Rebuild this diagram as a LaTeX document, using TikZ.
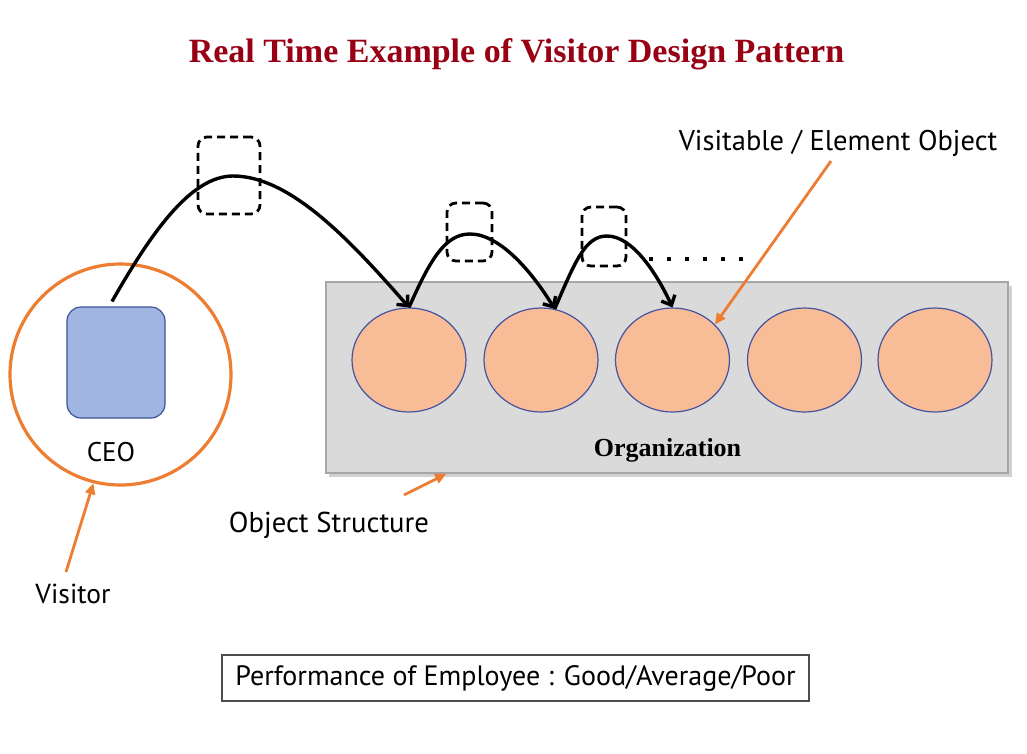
\documentclass[tikz,border=0pt]{standalone}
\usepackage{fontspec}
\setmainfont{PT Sans}
\newfontfamily\headfont{Liberation Serif}
\usetikzlibrary{arrows.meta,shapes.geometric,calc}
\definecolor{titlered}{RGB}{152,0,20}
\definecolor{accent}{RGB}{237,125,49}
\definecolor{peach}{RGB}{248,189,150}
\definecolor{rim}{RGB}{68,84,160}
\definecolor{ceoblue}{RGB}{160,181,226}
\definecolor{ceorim}{RGB}{60,85,150}
\definecolor{panel}{RGB}{218,218,218}
\begin{document}
\begin{tikzpicture}[x=1pt,y=-1pt,
  lbl/.style={inner sep=0pt, font=\fontsize{#1}{#1}\selectfont},
  member/.style={ellipse, draw=rim, line width=1.2pt, fill=peach,
    minimum width=114pt, minimum height=104pt, inner sep=0pt},
  hop/.style={line width=3.4pt, -{Straight Barb[length=8pt,width=15pt,line width=3.4pt]}},
  hopbox/.style={draw, dash pattern=on 8pt off 5pt, line width=2.8pt,
    rounded corners=9pt, inner sep=0pt},
  pointer/.style={draw=accent, line width=2.8pt, -{Triangle[length=11pt,width=10pt]}},
]
\useasboundingbox (0,0) rectangle (1027,753);

% title
\node[lbl=33, text=titlered, font=\headfont\bfseries\fontsize{34}{34}\selectfont] (title) at (516.5,54) {Real Time Example of Visitor Design Pattern};

% visitor: CEO inside the orange circle
\node[circle, draw=accent, line width=3.2pt, minimum size=221pt, inner sep=0pt] (crc) at (120.5,374.5) {};
\node[draw=ceorim, line width=1.2pt, fill=ceoblue, rounded corners=14pt,
  minimum width=98pt, minimum height=111pt, inner sep=0pt] (ceo) at (116,362.5) {};
\node[lbl=27] (ceolbl) at (111,452) {CEO};

% object structure
\fill[black, opacity=0.18] (329,286) rectangle (1012,477);
\node[draw=black!35, line width=1.6pt, fill=panel, minimum width=682pt, minimum height=191pt,
  inner sep=0pt] (org) at (667,377.5) {};
\node[lbl=26, font=\headfont\bfseries\fontsize{26}{26}\selectfont] (orglbl) at (667.5,450) {Organization};

\foreach \i/\x in {1/409,2/541,3/672.5,4/804.5,5/935}
  \node[member] (e\i) at (\x,360) {};

% dashed frames around each visit
\node[hopbox, minimum width=62pt, minimum height=77pt] (b1) at (229,175.5) {};
\node[hopbox, minimum width=45pt, minimum height=58pt] (b2) at (469.5,232) {};
\node[hopbox, minimum width=44pt, minimum height=59pt] (b3) at (604,236.5) {};

% visiting hops
\coordinate (s0) at ($(ceo.north)+(-4,-5)$);
\draw[hop] (s0) .. controls (150,235) and (190,176) .. (233,176)
  .. controls (290,176) and (350,240) .. (e1.north);
\draw[hop] (e1.north) .. controls (430,260) and (445,234) .. (470,234)
  .. controls (500,234) and (532,272) .. (e2.75);
\draw[hop] (e2.75) .. controls (575,262) and (585,236) .. (607,236)
  .. controls (632,236) and (656,272) .. (e3.north);

% continuation dots
\coordinate (d0) at (649,259);
\coordinate (d1) at (743,259);
\draw[line width=4pt, dash pattern=on 4pt off 14pt] (d0) -- (d1);

% labels with orange pointers
\node[lbl=28.5] (vis) at (838,143) {Visitable / Element Object};
\coordinate (vistail) at (831,161);
\draw[pointer] (vistail) -- (e3.40);

\node[lbl=28.7] (objs) at (329,525) {Object Structure};
\coordinate (objtail) at (404,495);
\draw[pointer] (objtail) -- ($(org.south west)!0.177!(org.south east)$);

\node[lbl=27.5] (visitor) at (73,594) {Visitor};
\coordinate (vtail) at (66,572);
\draw[pointer] (vtail) -- (crc.256);

% legend
\node[draw=black!70, line width=1.2pt, minimum width=587pt, minimum height=46pt,
  inner sep=0pt, font=\fontsize{28}{28}\selectfont] (perf) at (515.5,678)
  {Performance of Employee : Good/Average/Poor};
\end{tikzpicture}
\end{document}
